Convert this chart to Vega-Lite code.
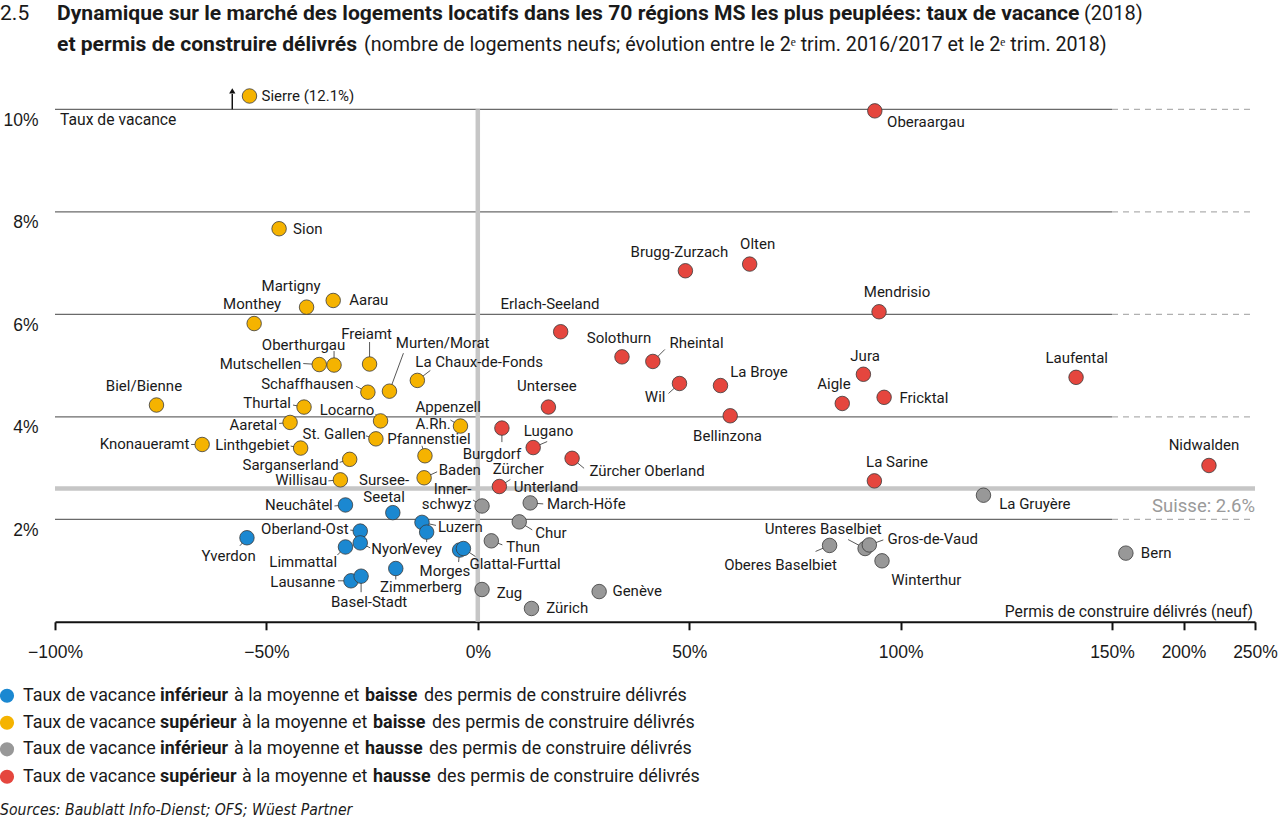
{
"$schema":"https://vega.github.io/schema/vega-lite/v6.json",
"width":1200,"height":538.1,
"autosize":{"type":"none"},
"padding":{"left":55,"top":83.7,"right":25,"bottom":199.2},
"background":"#ffffff",
"config":{"view":{"stroke":null},
 "text":{"font":"Roboto","fontSize":15,"color":"#1a1a1a","baseline":"middle"},
 "rule":{"color":"#444444","strokeWidth":0.9}},
"data":{"values":[
{"name":"Sierre","permis":-54.0,"vacance":12.1,"cat":"sup_baisse"},
{"name":"Sion","permis":-47.0,"vacance":7.67,"cat":"sup_baisse"},
{"name":"Martigny","permis":-40.5,"vacance":6.14,"cat":"sup_baisse"},
{"name":"Aarau","permis":-34.2,"vacance":6.27,"cat":"sup_baisse"},
{"name":"Monthey","permis":-52.9,"vacance":5.82,"cat":"sup_baisse"},
{"name":"Biel/Bienne","permis":-76.0,"vacance":4.23,"cat":"sup_baisse"},
{"name":"Knonaueramt","permis":-65.2,"vacance":3.46,"cat":"sup_baisse"},
{"name":"Linthgebiet","permis":-41.9,"vacance":3.39,"cat":"sup_baisse"},
{"name":"Aaretal","permis":-44.4,"vacance":3.89,"cat":"sup_baisse"},
{"name":"Thurtal","permis":-41.1,"vacance":4.19,"cat":"sup_baisse"},
{"name":"Mutschellen","permis":-37.5,"vacance":5.02,"cat":"sup_baisse"},
{"name":"Oberthurgau","permis":-34.0,"vacance":5.01,"cat":"sup_baisse"},
{"name":"Freiamt","permis":-25.6,"vacance":5.03,"cat":"sup_baisse"},
{"name":"Schaffhausen","permis":-26.0,"vacance":4.48,"cat":"sup_baisse"},
{"name":"Murten/Morat","permis":-20.9,"vacance":4.50,"cat":"sup_baisse"},
{"name":"La Chaux-de-Fonds","permis":-14.3,"vacance":4.71,"cat":"sup_baisse"},
{"name":"Locarno","permis":-23.0,"vacance":3.92,"cat":"sup_baisse"},
{"name":"St. Gallen","permis":-24.1,"vacance":3.57,"cat":"sup_baisse"},
{"name":"Appenzell A.Rh.","permis":-4.1,"vacance":3.82,"cat":"sup_baisse"},
{"name":"Pfannenstiel","permis":-12.5,"vacance":3.24,"cat":"sup_baisse"},
{"name":"Sarganserland","permis":-30.3,"vacance":3.17,"cat":"sup_baisse"},
{"name":"Willisau","permis":-32.5,"vacance":2.77,"cat":"sup_baisse"},
{"name":"Baden","permis":-12.7,"vacance":2.81,"cat":"sup_baisse"},
{"name":"Neuchâtel","permis":-31.3,"vacance":2.28,"cat":"inf_baisse"},
{"name":"Sursee-Seetal","permis":-20.1,"vacance":2.13,"cat":"inf_baisse"},
{"name":"Luzern","permis":-13.2,"vacance":1.94,"cat":"inf_baisse"},
{"name":"Vevey","permis":-12.1,"vacance":1.75,"cat":"inf_baisse"},
{"name":"Oberland-Ost","permis":-27.8,"vacance":1.77,"cat":"inf_baisse"},
{"name":"Nyon","permis":-27.8,"vacance":1.54,"cat":"inf_baisse"},
{"name":"Limmattal","permis":-31.3,"vacance":1.46,"cat":"inf_baisse"},
{"name":"Yverdon","permis":-54.6,"vacance":1.64,"cat":"inf_baisse"},
{"name":"Morges","permis":-4.3,"vacance":1.40,"cat":"inf_baisse"},
{"name":"Glattal-Furttal","permis":-3.4,"vacance":1.43,"cat":"inf_baisse"},
{"name":"Zimmerberg","permis":-19.4,"vacance":1.04,"cat":"inf_baisse"},
{"name":"Lausanne","permis":-30.0,"vacance":0.80,"cat":"inf_baisse"},
{"name":"Basel-Stadt","permis":-27.6,"vacance":0.89,"cat":"inf_baisse"},
{"name":"Innerschwyz","permis":1.0,"vacance":2.26,"cat":"inf_hausse"},
{"name":"Zug","permis":1.0,"vacance":0.63,"cat":"inf_hausse"},
{"name":"Chur","permis":9.8,"vacance":1.95,"cat":"inf_hausse"},
{"name":"March-Höfe","permis":12.4,"vacance":2.32,"cat":"inf_hausse"},
{"name":"Thun","permis":3.2,"vacance":1.58,"cat":"inf_hausse"},
{"name":"Zürich","permis":12.7,"vacance":0.26,"cat":"inf_hausse"},
{"name":"Genève","permis":28.7,"vacance":0.59,"cat":"inf_hausse"},
{"name":"Oberes Baselbiet","permis":83.2,"vacance":1.49,"cat":"inf_hausse"},
{"name":"Unteres Baselbiet","permis":91.6,"vacance":1.43,"cat":"inf_hausse"},
{"name":"Gros-de-Vaud","permis":92.6,"vacance":1.50,"cat":"inf_hausse"},
{"name":"Winterthur","permis":95.6,"vacance":1.19,"cat":"inf_hausse"},
{"name":"Bern","permis":159.7,"vacance":1.34,"cat":"inf_hausse"},
{"name":"La Gruyère","permis":119.6,"vacance":2.47,"cat":"inf_hausse"},
{"name":"Oberaargau","permis":93.9,"vacance":9.97,"cat":"sup_hausse"},
{"name":"Mendrisio","permis":94.9,"vacance":6.05,"cat":"sup_hausse"},
{"name":"Brugg-Zurzach","permis":49.1,"vacance":6.85,"cat":"sup_hausse"},
{"name":"Olten","permis":64.3,"vacance":6.98,"cat":"sup_hausse"},
{"name":"Erlach-Seeland","permis":19.6,"vacance":5.66,"cat":"sup_hausse"},
{"name":"Solothurn","permis":34.1,"vacance":5.17,"cat":"sup_hausse"},
{"name":"Rheintal","permis":41.4,"vacance":5.08,"cat":"sup_hausse"},
{"name":"Wil","permis":47.7,"vacance":4.65,"cat":"sup_hausse"},
{"name":"La Broye","permis":57.4,"vacance":4.61,"cat":"sup_hausse"},
{"name":"Bellinzona","permis":59.7,"vacance":4.02,"cat":"sup_hausse"},
{"name":"Untersee","permis":16.7,"vacance":4.19,"cat":"sup_hausse"},
{"name":"Burgdorf","permis":5.7,"vacance":3.78,"cat":"sup_hausse"},
{"name":"Lugano","permis":13.1,"vacance":3.40,"cat":"sup_hausse"},
{"name":"Zürcher Oberland","permis":22.3,"vacance":3.19,"cat":"sup_hausse"},
{"name":"Zürcher Unterland","permis":5.1,"vacance":2.64,"cat":"sup_hausse"},
{"name":"Jura","permis":91.2,"vacance":4.83,"cat":"sup_hausse"},
{"name":"Aigle","permis":86.2,"vacance":4.26,"cat":"sup_hausse"},
{"name":"Fricktal","permis":96.1,"vacance":4.38,"cat":"sup_hausse"},
{"name":"Laufental","permis":141.5,"vacance":4.77,"cat":"sup_hausse"},
{"name":"Nidwalden","permis":217.8,"vacance":3.05,"cat":"sup_hausse"},
{"name":"La Sarine","permis":93.8,"vacance":2.75,"cat":"sup_hausse"}
]},
"layer":[
{"data":{"values":[{"v":2},{"v":4},{"v":6},{"v":8},{"v":10}]},
 "mark":{"type":"rule","color":"#6a6a6a","strokeWidth":1.2},
 "encoding":{"y":{"field":"v","type":"quantitative"},"x":{"datum":-100},"x2":{"datum":150}}},
{"data":{"values":[{"v":2},{"v":4},{"v":6},{"v":8},{"v":10}]},
 "mark":{"type":"rule","color":"#b0b0b0","strokeWidth":1.2,"strokeDash":[6,5]},
 "encoding":{"y":{"field":"v","type":"quantitative"},"x":{"datum":150},"x2":{"datum":250}}},
{"data":{"values":[{}]},
 "layer":[
  {"mark":{"type":"rule","color":"#c6c6c6","strokeWidth":4.5},"encoding":{"y":{"datum":2.6},"x":{"datum":-100},"x2":{"datum":250}}},
  {"mark":{"type":"rule","color":"#c6c6c6","strokeWidth":4.5},"encoding":{"x":{"datum":0},"y":{"datum":0},"y2":{"datum":10}}},
  {"mark":{"type":"text","align":"right","fontSize":18.5,"color":"#9a9a9a","dy":17},"encoding":{"x":{"datum":250},"y":{"datum":2.6},"text":{"value":"Suisse: 2.6%"}}},
  {"mark":{"type":"text","align":"left","dx":5,"dy":11,"fontSize":15.7},"encoding":{"x":{"datum":-100},"y":{"datum":10},"text":{"value":"Taux de vacance"}}},
  {"mark":{"type":"text","align":"right","dx":-2,"dy":-10,"fontSize":15.7},"encoding":{"x":{"datum":250},"y":{"datum":0},"text":{"value":"Permis de construire délivrés (neuf)"}}}
 ]},
{"encoding":{"x":{"field":"permis","type":"quantitative"},"y":{"field":"vacance","type":"quantitative"},"x2":{"field":"permis"},"y2":{"field":"vacance"}},
 "layer":[
  {"transform":[{"filter":{"field":"name","equal":"Mutschellen"}}],"mark":{"type":"rule","x2Offset":-16,"y2Offset":-1}},
  {"transform":[{"filter":{"field":"name","equal":"Oberthurgau"}}],"mark":{"type":"rule","x2Offset":0,"y2Offset":-14}},
  {"transform":[{"filter":{"field":"name","equal":"Freiamt"}}],"mark":{"type":"rule","x2Offset":0,"y2Offset":-22}},
  {"transform":[{"filter":{"field":"name","equal":"Murten/Morat"}}],"mark":{"type":"rule","x2Offset":14,"y2Offset":-38}},
  {"transform":[{"filter":{"field":"name","equal":"La Chaux-de-Fonds"}}],"mark":{"type":"rule","x2Offset":13,"y2Offset":-10}},
  {"transform":[{"filter":{"field":"name","equal":"Schaffhausen"}}],"mark":{"type":"rule","x2Offset":-12,"y2Offset":-6}},
  {"transform":[{"filter":{"field":"name","equal":"Thurtal"}}],"mark":{"type":"rule","x2Offset":-11,"y2Offset":-2}},
  {"transform":[{"filter":{"field":"name","equal":"Locarno"}}],"mark":{"type":"rule","x2Offset":-5,"y2Offset":-7}},
  {"transform":[{"filter":{"field":"name","equal":"Aaretal"}}],"mark":{"type":"rule","x2Offset":-11,"y2Offset":1}},
  {"transform":[{"filter":{"field":"name","equal":"St. Gallen"}}],"mark":{"type":"rule","x2Offset":-10,"y2Offset":-3}},
  {"transform":[{"filter":{"field":"name","equal":"Appenzell A.Rh."}}],"mark":{"type":"rule","x2Offset":-10,"y2Offset":-6}},
  {"transform":[{"filter":{"field":"name","equal":"Knonaueramt"}}],"mark":{"type":"rule","x2Offset":-11,"y2Offset":0}},
  {"transform":[{"filter":{"field":"name","equal":"Linthgebiet"}}],"mark":{"type":"rule","x2Offset":-10,"y2Offset":-2}},
  {"transform":[{"filter":{"field":"name","equal":"Pfannenstiel"}}],"mark":{"type":"rule","x2Offset":-3,"y2Offset":-10}},
  {"transform":[{"filter":{"field":"name","equal":"Sarganserland"}}],"mark":{"type":"rule","x2Offset":-10,"y2Offset":3}},
  {"transform":[{"filter":{"field":"name","equal":"Willisau"}}],"mark":{"type":"rule","x2Offset":-12,"y2Offset":1}},
  {"transform":[{"filter":{"field":"name","equal":"Baden"}}],"mark":{"type":"rule","x2Offset":13,"y2Offset":-6}},
  {"transform":[{"filter":{"field":"name","equal":"Neuchâtel"}}],"mark":{"type":"rule","x2Offset":-11,"y2Offset":1}},
  {"transform":[{"filter":{"field":"name","equal":"Luzern"}}],"mark":{"type":"rule","x2Offset":14,"y2Offset":3}},
  {"transform":[{"filter":{"field":"name","equal":"Oberland-Ost"}}],"mark":{"type":"rule","x2Offset":-10,"y2Offset":-1}},
  {"transform":[{"filter":{"field":"name","equal":"Nyon"}}],"mark":{"type":"rule","x2Offset":10,"y2Offset":5}},
  {"transform":[{"filter":{"field":"name","equal":"Vevey"}}],"mark":{"type":"rule","x2Offset":0,"y2Offset":10}},
  {"transform":[{"filter":{"field":"name","equal":"Limmattal"}}],"mark":{"type":"rule","x2Offset":-8,"y2Offset":8}},
  {"transform":[{"filter":{"field":"name","equal":"Yverdon"}}],"mark":{"type":"rule","x2Offset":-7,"y2Offset":8}},
  {"transform":[{"filter":{"field":"name","equal":"Morges"}}],"mark":{"type":"rule","x2Offset":-1,"y2Offset":12}},
  {"transform":[{"filter":{"field":"name","equal":"Glattal-Furttal"}}],"mark":{"type":"rule","x2Offset":12,"y2Offset":8}},
  {"transform":[{"filter":{"field":"name","equal":"Zimmerberg"}}],"mark":{"type":"rule","x2Offset":0,"y2Offset":11}},
  {"transform":[{"filter":{"field":"name","equal":"Lausanne"}}],"mark":{"type":"rule","x2Offset":-13,"y2Offset":0}},
  {"transform":[{"filter":{"field":"name","equal":"Basel-Stadt"}}],"mark":{"type":"rule","x2Offset":0,"y2Offset":16}},
  {"transform":[{"filter":{"field":"name","equal":"Innerschwyz"}}],"mark":{"type":"rule","x2Offset":-9,"y2Offset":-6}},
  {"transform":[{"filter":{"field":"name","equal":"Chur"}}],"mark":{"type":"rule","x2Offset":13,"y2Offset":8}},
  {"transform":[{"filter":{"field":"name","equal":"Thun"}}],"mark":{"type":"rule","x2Offset":11,"y2Offset":4}},
  {"transform":[{"filter":{"field":"name","equal":"March-Höfe"}}],"mark":{"type":"rule","x2Offset":13,"y2Offset":1}},
  {"transform":[{"filter":{"field":"name","equal":"Wil"}}],"mark":{"type":"rule","x2Offset":-11,"y2Offset":10}},
  {"transform":[{"filter":{"field":"name","equal":"Rheintal"}}],"mark":{"type":"rule","x2Offset":12,"y2Offset":-12}},
  {"transform":[{"filter":{"field":"name","equal":"Lugano"}}],"mark":{"type":"rule","x2Offset":14,"y2Offset":-6}},
  {"transform":[{"filter":{"field":"name","equal":"Burgdorf"}}],"mark":{"type":"rule","x2Offset":0,"y2Offset":14}},
  {"transform":[{"filter":{"field":"name","equal":"Zürcher Oberland"}}],"mark":{"type":"rule","x2Offset":12,"y2Offset":10}},
  {"transform":[{"filter":{"field":"name","equal":"Zürcher Unterland"}}],"mark":{"type":"rule","x2Offset":11,"y2Offset":-7}},
  {"transform":[{"filter":{"field":"name","equal":"Unteres Baselbiet"}}],"mark":{"type":"rule","x2Offset":-17,"y2Offset":-9}},
  {"transform":[{"filter":{"field":"name","equal":"Oberes Baselbiet"}}],"mark":{"type":"rule","x2Offset":-14,"y2Offset":6}},
  {"transform":[{"filter":{"field":"name","equal":"Gros-de-Vaud"}}],"mark":{"type":"rule","x2Offset":14,"y2Offset":-5}}
 ]},
{"transform":[{"filter":"datum.vacance < 11"}],
 "mark":{"type":"point","shape":"circle","filled":true,"size":210,"stroke":"#3a3a3a","strokeWidth":0.8,"opacity":1},
 "encoding":{
  "x":{"field":"permis","type":"quantitative",
   "scale":{"domain":[-100,150,250],"range":[0,1057,1200],"nice":false,"zero":false},
   "axis":{"values":[-100,-50,0,50,100,150,200,250],"title":null,"grid":false,"domainColor":"#111111","domainWidth":2,"tickColor":"#111111","tickWidth":2,"tickSize":8,"labelFont":"Liberation Sans","labelFontSize":17.5,"labelColor":"#1a1a1a","labelPadding":14,"labelFlush":false,"labelOverlap":false,"labelExpr":"replace(datum.label, '-', '−') + '%'"}},
  "y":{"field":"vacance","type":"quantitative",
   "scale":{"domain":[0,10.5],"nice":false,"zero":false},
   "axis":{"values":[2,4,6,8,10],"title":null,"grid":false,"domain":false,"ticks":false,"tickSize":0,"labelFont":"Liberation Sans","labelFontSize":17.5,"labelColor":"#1a1a1a","labelPadding":17,"labelOffset":11,"labelExpr":"datum.value + '%'"}},
  "color":{"field":"cat","type":"nominal","legend":null,
   "scale":{"domain":["inf_baisse","sup_baisse","inf_hausse","sup_hausse"],"range":["#1b88d1","#f5b300","#989898","#e5463e"]}}}},
{"transform":[{"filter":{"field":"name","equal":"Sierre"}}],
 "layer":[
  {"mark":{"type":"rule","color":"#111111","strokeWidth":1.5},"encoding":{"x":{"datum":-58.07},"y":{"datum":10},"y2":{"datum":10.3}}},
  {"mark":{"type":"point","shape":"triangle-up","filled":true,"color":"#111111","size":40,"opacity":1},"encoding":{"x":{"datum":-58.07},"y":{"datum":10.36}}},
  {"mark":{"type":"point","shape":"circle","filled":true,"size":210,"stroke":"#3a3a3a","strokeWidth":0.8,"opacity":1},"encoding":{"x":{"field":"permis","type":"quantitative"},"y":{"datum":10.26},"color":{"field":"cat","type":"nominal","legend":null}}},
  {"mark":{"type":"text","align":"left","dx":12},"encoding":{"x":{"field":"permis","type":"quantitative"},"y":{"datum":10.26},"text":{"value":"Sierre (12.1%)"}}}
 ]},
{"encoding":{"x":{"field":"permis","type":"quantitative"},"y":{"field":"vacance","type":"quantitative"},"text":{"field":"name"}},
 "layer":[
  {"transform":[{"filter":{"field":"name","equal":"Sion"}}],"mark":{"type":"text","align":"left","dx":14,"dy":0}},
  {"transform":[{"filter":{"field":"name","equal":"Martigny"}}],"mark":{"type":"text","align":"center","dx":-15.5,"dy":-21.6}},
  {"transform":[{"filter":{"field":"name","equal":"Aarau"}}],"mark":{"type":"text","align":"left","dx":16,"dy":0}},
  {"transform":[{"filter":{"field":"name","equal":"Monthey"}}],"mark":{"type":"text","align":"center","dx":-2,"dy":-20}},
  {"transform":[{"filter":{"field":"name","equal":"Biel/Bienne"}}],"mark":{"type":"text","align":"center","dx":-12.5,"dy":-19}},
  {"transform":[{"filter":{"field":"name","equal":"Knonaueramt"}}],"mark":{"type":"text","align":"right","dx":-12.7,"dy":0}},
  {"transform":[{"filter":{"field":"name","equal":"Linthgebiet"}}],"mark":{"type":"text","align":"right","dx":-11,"dy":-3}},
  {"transform":[{"filter":{"field":"name","equal":"Aaretal"}}],"mark":{"type":"text","align":"right","dx":-13,"dy":3}},
  {"transform":[{"filter":{"field":"name","equal":"Thurtal"}}],"mark":{"type":"text","align":"right","dx":-13,"dy":-3.6}},
  {"transform":[{"filter":{"field":"name","equal":"Mutschellen"}}],"mark":{"type":"text","align":"right","dx":-18,"dy":-1}},
  {"transform":[{"filter":{"field":"name","equal":"Oberthurgau"}}],"mark":{"type":"text","align":"center","dx":-30.5,"dy":-20}},
  {"transform":[{"filter":{"field":"name","equal":"Freiamt"}}],"mark":{"type":"text","align":"center","dx":-3,"dy":-30}},
  {"transform":[{"filter":{"field":"name","equal":"Schaffhausen"}}],"mark":{"type":"text","align":"right","dx":-14.4,"dy":-8}},
  {"transform":[{"filter":{"field":"name","equal":"Murten/Morat"}}],"mark":{"type":"text","align":"left","dx":6.4,"dy":-48.3}},
  {"transform":[{"filter":{"field":"name","equal":"La Chaux-de-Fonds"}}],"mark":{"type":"text","align":"left","dx":-2,"dy":-18}},
  {"transform":[{"filter":{"field":"name","equal":"Locarno"}}],"mark":{"type":"text","align":"right","dx":-6.3,"dy":-10.7}},
  {"transform":[{"filter":{"field":"name","equal":"St. Gallen"}}],"mark":{"type":"text","align":"right","dx":-10,"dy":-5}},
  {"transform":[{"filter":{"field":"name","equal":"Appenzell A.Rh."}}],"mark":{"type":"text","align":"left","dx":-45,"dy":-18.6,"lineHeight":16.5},"encoding":{"text":{"value":["Appenzell","A.Rh."]}}},
  {"transform":[{"filter":{"field":"name","equal":"Pfannenstiel"}}],"mark":{"type":"text","align":"center","dx":4,"dy":-16.4}},
  {"transform":[{"filter":{"field":"name","equal":"Sarganserland"}}],"mark":{"type":"text","align":"right","dx":-11,"dy":5.7}},
  {"transform":[{"filter":{"field":"name","equal":"Willisau"}}],"mark":{"type":"text","align":"right","dx":-13,"dy":0}},
  {"transform":[{"filter":{"field":"name","equal":"Baden"}}],"mark":{"type":"text","align":"left","dx":14.6,"dy":-7.7}},
  {"transform":[{"filter":{"field":"name","equal":"Neuchâtel"}}],"mark":{"type":"text","align":"right","dx":-12.7,"dy":0}},
  {"transform":[{"filter":{"field":"name","equal":"Sursee-Seetal"}}],"mark":{"type":"text","align":"center","dx":-8.7,"dy":-32.4,"lineHeight":17},"encoding":{"text":{"value":["Sursee-","Seetal"]}}},
  {"transform":[{"filter":{"field":"name","equal":"Luzern"}}],"mark":{"type":"text","align":"left","dx":16,"dy":4.4}},
  {"transform":[{"filter":{"field":"name","equal":"Vevey"}}],"mark":{"type":"text","align":"center","dx":-4.3,"dy":17}},
  {"transform":[{"filter":{"field":"name","equal":"Oberland-Ost"}}],"mark":{"type":"text","align":"right","dx":-11.7,"dy":-2}},
  {"transform":[{"filter":{"field":"name","equal":"Nyon"}}],"mark":{"type":"text","align":"left","dx":11,"dy":6.6}},
  {"transform":[{"filter":{"field":"name","equal":"Limmattal"}}],"mark":{"type":"text","align":"right","dx":-8.3,"dy":15.3}},
  {"transform":[{"filter":{"field":"name","equal":"Yverdon"}}],"mark":{"type":"text","align":"center","dx":-18.4,"dy":18.7}},
  {"transform":[{"filter":{"field":"name","equal":"Morges"}}],"mark":{"type":"text","align":"right","dx":10.7,"dy":21.4}},
  {"transform":[{"filter":{"field":"name","equal":"Glattal-Furttal"}}],"mark":{"type":"text","align":"left","dx":6,"dy":15}},
  {"transform":[{"filter":{"field":"name","equal":"Zimmerberg"}}],"mark":{"type":"text","align":"left","dx":-15.7,"dy":18}},
  {"transform":[{"filter":{"field":"name","equal":"Lausanne"}}],"mark":{"type":"text","align":"right","dx":-15.7,"dy":1.6}},
  {"transform":[{"filter":{"field":"name","equal":"Basel-Stadt"}}],"mark":{"type":"text","align":"center","dx":8,"dy":26}},
  {"transform":[{"filter":{"field":"name","equal":"Innerschwyz"}}],"mark":{"type":"text","align":"right","dx":-10.5,"dy":-17,"lineHeight":15},"encoding":{"text":{"value":["Inner-","schwyz"]}}},
  {"transform":[{"filter":{"field":"name","equal":"Zug"}}],"mark":{"type":"text","align":"left","dx":14.6,"dy":3}},
  {"transform":[{"filter":{"field":"name","equal":"Chur"}}],"mark":{"type":"text","align":"left","dx":16,"dy":11.6}},
  {"transform":[{"filter":{"field":"name","equal":"March-Höfe"}}],"mark":{"type":"text","align":"left","dx":16.7,"dy":1.3}},
  {"transform":[{"filter":{"field":"name","equal":"Thun"}}],"mark":{"type":"text","align":"left","dx":15,"dy":6}},
  {"transform":[{"filter":{"field":"name","equal":"Zürich"}}],"mark":{"type":"text","align":"left","dx":14.7,"dy":0}},
  {"transform":[{"filter":{"field":"name","equal":"Genève"}}],"mark":{"type":"text","align":"left","dx":13.3,"dy":-1}},
  {"transform":[{"filter":{"field":"name","equal":"Oberes Baselbiet"}}],"mark":{"type":"text","align":"right","dx":7.4,"dy":20}},
  {"transform":[{"filter":{"field":"name","equal":"Unteres Baselbiet"}}],"mark":{"type":"text","align":"right","dx":16.7,"dy":-20}},
  {"transform":[{"filter":{"field":"name","equal":"Gros-de-Vaud"}}],"mark":{"type":"text","align":"left","dx":18.3,"dy":-6}},
  {"transform":[{"filter":{"field":"name","equal":"Winterthur"}}],"mark":{"type":"text","align":"left","dx":9.3,"dy":19.3}},
  {"transform":[{"filter":{"field":"name","equal":"Bern"}}],"mark":{"type":"text","align":"left","dx":15,"dy":0}},
  {"transform":[{"filter":{"field":"name","equal":"La Gruyère"}}],"mark":{"type":"text","align":"left","dx":15.7,"dy":8.3}},
  {"transform":[{"filter":{"field":"name","equal":"Oberaargau"}}],"mark":{"type":"text","align":"left","dx":12.3,"dy":10.7}},
  {"transform":[{"filter":{"field":"name","equal":"Mendrisio"}}],"mark":{"type":"text","align":"center","dx":18,"dy":-20}},
  {"transform":[{"filter":{"field":"name","equal":"Brugg-Zurzach"}}],"mark":{"type":"text","align":"center","dx":-6,"dy":-19}},
  {"transform":[{"filter":{"field":"name","equal":"Olten"}}],"mark":{"type":"text","align":"center","dx":8,"dy":-20}},
  {"transform":[{"filter":{"field":"name","equal":"Erlach-Seeland"}}],"mark":{"type":"text","align":"center","dx":-10.7,"dy":-27.4}},
  {"transform":[{"filter":{"field":"name","equal":"Solothurn"}}],"mark":{"type":"text","align":"center","dx":-3,"dy":-19}},
  {"transform":[{"filter":{"field":"name","equal":"Rheintal"}}],"mark":{"type":"text","align":"left","dx":16.6,"dy":-18}},
  {"transform":[{"filter":{"field":"name","equal":"Wil"}}],"mark":{"type":"text","align":"right","dx":-14,"dy":13.4}},
  {"transform":[{"filter":{"field":"name","equal":"La Broye"}}],"mark":{"type":"text","align":"left","dx":9.7,"dy":-13.4}},
  {"transform":[{"filter":{"field":"name","equal":"Bellinzona"}}],"mark":{"type":"text","align":"center","dx":-2.7,"dy":20}},
  {"transform":[{"filter":{"field":"name","equal":"Untersee"}}],"mark":{"type":"text","align":"center","dx":-1.5,"dy":-21.3}},
  {"transform":[{"filter":{"field":"name","equal":"Burgdorf"}}],"mark":{"type":"text","align":"center","dx":-10,"dy":26}},
  {"transform":[{"filter":{"field":"name","equal":"Lugano"}}],"mark":{"type":"text","align":"left","dx":-9.4,"dy":-17}},
  {"transform":[{"filter":{"field":"name","equal":"Zürcher Oberland"}}],"mark":{"type":"text","align":"left","dx":17.3,"dy":12.4}},
  {"transform":[{"filter":{"field":"name","equal":"Zürcher Unterland"}}],"mark":{"type":"text","align":"left","dx":-6.7,"dy":-17.7},"encoding":{"text":{"value":"Zürcher"}}},
  {"transform":[{"filter":{"field":"name","equal":"Zürcher Unterland"}}],"mark":{"type":"text","align":"left","dx":14.3,"dy":0},"encoding":{"text":{"value":"Unterland"}}},
  {"transform":[{"filter":{"field":"name","equal":"Jura"}}],"mark":{"type":"text","align":"center","dx":1.7,"dy":-18.3}},
  {"transform":[{"filter":{"field":"name","equal":"Aigle"}}],"mark":{"type":"text","align":"center","dx":-8.3,"dy":-19}},
  {"transform":[{"filter":{"field":"name","equal":"Fricktal"}}],"mark":{"type":"text","align":"left","dx":15.3,"dy":1}},
  {"transform":[{"filter":{"field":"name","equal":"Laufental"}}],"mark":{"type":"text","align":"center","dx":0.7,"dy":-19.6}},
  {"transform":[{"filter":{"field":"name","equal":"Nidwalden"}}],"mark":{"type":"text","align":"center","dx":-5,"dy":-20}},
  {"transform":[{"filter":{"field":"name","equal":"La Sarine"}}],"mark":{"type":"text","align":"left","dx":-8.3,"dy":-19.3}}
 ]},
{"data":{"values":[{}]},
 "layer":[
  {"mark":{"type":"text","align":"left","fontSize":21},"encoding":{"x":{"datum":-113.0},"y":{"datum":11.859},"text":{"value":"2.5"}}},
  {"mark":{"type":"text","align":"left","fontSize":21.1,"fontWeight":"bold"},"encoding":{"x":{"datum":-99.53},"y":{"datum":11.859},"text":{"value":"Dynamique sur le marché des logements locatifs dans les 70 régions MS les plus peuplées: taux de vacance"}}},
  {"mark":{"type":"text","align":"left","fontSize":20},"encoding":{"x":{"datum":143.38},"y":{"datum":11.859},"text":{"value":"(2018)"}}},
  {"mark":{"type":"text","align":"left","fontSize":21.1,"fontWeight":"bold"},"encoding":{"x":{"datum":-99.53},"y":{"datum":11.254},"text":{"value":"et permis de construire délivrés"}}},
  {"mark":{"type":"text","align":"left","fontSize":19.7},"encoding":{"x":{"datum":-26.92},"y":{"datum":11.254},"text":{"value":"(nombre de logements neufs; évolution entre le 2ᵉ trim. 2016/2017 et le 2ᵉ trim. 2018)"}}},
  {"mark":{"type":"text","align":"left","fontSize":15.6,"fontStyle":"italic","font":"DejaVu Sans Condensed"},"encoding":{"x":{"datum":-113.0},"y":{"datum":-3.672},"text":{"value":"Sources: Baublatt Info-Dienst; OFS; Wüest Partner"}}}
 ]},
{"data":{"values":[{}]},"encoding":{"y":{"datum":-1.442}},
 "layer":[
  {"mark":{"type":"point","shape":"circle","filled":true,"size":200,"color":"#1b88d1","opacity":1},"encoding":{"x":{"datum":-111.35}}},
  {"mark":{"type":"text","align":"left","fontSize":17.9},"encoding":{"x":{"datum":-107.57},"text":{"value":"Taux de vacance"}}},
  {"mark":{"type":"text","align":"left","fontSize":17.9,"fontWeight":"bold"},"encoding":{"x":{"datum":-75.17},"text":{"value":"inférieur"}}},
  {"mark":{"type":"text","align":"left","fontSize":17.9},"encoding":{"x":{"datum":-57.66},"text":{"value":"à la moyenne et"}}},
  {"mark":{"type":"text","align":"left","fontSize":17.9,"fontWeight":"bold"},"encoding":{"x":{"datum":-26.68},"text":{"value":"baisse"}}},
  {"mark":{"type":"text","align":"left","fontSize":17.9},"encoding":{"x":{"datum":-12.73},"text":{"value":"des permis de construire délivrés"}}}
 ]},
{"data":{"values":[{}]},"encoding":{"y":{"datum":-1.969}},
 "layer":[
  {"mark":{"type":"point","shape":"circle","filled":true,"size":200,"color":"#f5b300","opacity":1},"encoding":{"x":{"datum":-111.35}}},
  {"mark":{"type":"text","align":"left","fontSize":17.9},"encoding":{"x":{"datum":-107.57},"text":{"value":"Taux de vacance"}}},
  {"mark":{"type":"text","align":"left","fontSize":17.9,"fontWeight":"bold"},"encoding":{"x":{"datum":-75.17},"text":{"value":"supérieur"}}},
  {"mark":{"type":"text","align":"left","fontSize":17.9},"encoding":{"x":{"datum":-55.77},"text":{"value":"à la moyenne et"}}},
  {"mark":{"type":"text","align":"left","fontSize":17.9,"fontWeight":"bold"},"encoding":{"x":{"datum":-24.79},"text":{"value":"baisse"}}},
  {"mark":{"type":"text","align":"left","fontSize":17.9},"encoding":{"x":{"datum":-10.83},"text":{"value":"des permis de construire délivrés"}}}
 ]},
{"data":{"values":[{}]},"encoding":{"y":{"datum":-2.488}},
 "layer":[
  {"mark":{"type":"point","shape":"circle","filled":true,"size":200,"color":"#989898","opacity":1},"encoding":{"x":{"datum":-111.35}}},
  {"mark":{"type":"text","align":"left","fontSize":17.9},"encoding":{"x":{"datum":-107.57},"text":{"value":"Taux de vacance"}}},
  {"mark":{"type":"text","align":"left","fontSize":17.9,"fontWeight":"bold"},"encoding":{"x":{"datum":-75.17},"text":{"value":"inférieur"}}},
  {"mark":{"type":"text","align":"left","fontSize":17.9},"encoding":{"x":{"datum":-57.66},"text":{"value":"à la moyenne et"}}},
  {"mark":{"type":"text","align":"left","fontSize":17.9,"fontWeight":"bold"},"encoding":{"x":{"datum":-26.68},"text":{"value":"hausse"}}},
  {"mark":{"type":"text","align":"left","fontSize":17.9},"encoding":{"x":{"datum":-11.54},"text":{"value":"des permis de construire délivrés"}}}
 ]},
{"data":{"values":[{}]},"encoding":{"y":{"datum":-3.023}},
 "layer":[
  {"mark":{"type":"point","shape":"circle","filled":true,"size":200,"color":"#e5463e","opacity":1},"encoding":{"x":{"datum":-111.35}}},
  {"mark":{"type":"text","align":"left","fontSize":17.9},"encoding":{"x":{"datum":-107.57},"text":{"value":"Taux de vacance"}}},
  {"mark":{"type":"text","align":"left","fontSize":17.9,"fontWeight":"bold"},"encoding":{"x":{"datum":-75.17},"text":{"value":"supérieur"}}},
  {"mark":{"type":"text","align":"left","fontSize":17.9},"encoding":{"x":{"datum":-55.77},"text":{"value":"à la moyenne et"}}},
  {"mark":{"type":"text","align":"left","fontSize":17.9,"fontWeight":"bold"},"encoding":{"x":{"datum":-24.79},"text":{"value":"hausse"}}},
  {"mark":{"type":"text","align":"left","fontSize":17.9},"encoding":{"x":{"datum":-9.65},"text":{"value":"des permis de construire délivrés"}}}
 ]}
]
}
